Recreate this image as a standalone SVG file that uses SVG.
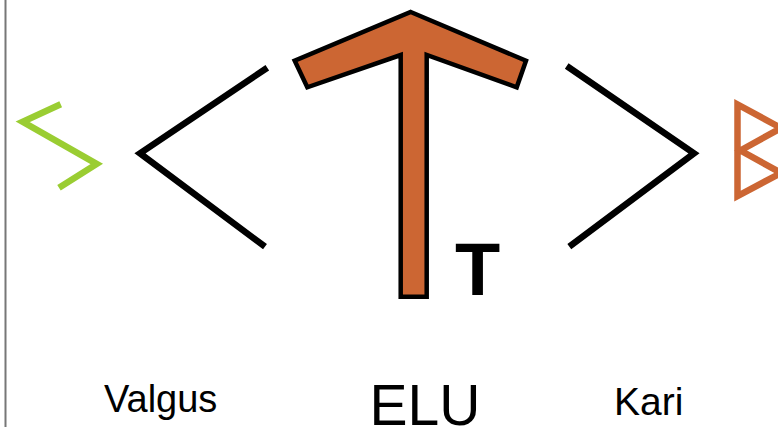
<svg xmlns="http://www.w3.org/2000/svg" width="778" height="427" viewBox="0 0 778 427">
<style>
.chev{fill:none;stroke:#000;stroke-width:6.5;stroke-linejoin:miter;stroke-miterlimit:10}
.lbl{font-family:"Liberation Sans",Arial,sans-serif;fill:#000}
</style>
<rect x="0" y="0" width="778" height="427" fill="#fff"/>
<line x1="5.5" y1="0" x2="5.5" y2="427" stroke="#777" stroke-width="2"/>
<g id="green-rune">
<polyline points="60.7,104.3 22.7,121.7 96.7,164 59,187.7" fill="none" stroke="#9ACD32" stroke-width="6.5" stroke-miterlimit="10"/>
</g>
<g id="connectors">
<polyline class="chev" points="267.3,67.7 140,153.3 265,246.7"/>
<polyline class="chev" points="566.7,66 694,153.3 569.3,246.7"/>
</g>
<g id="tiwaz">
<polygon points="410.7,12 526,60.7 516.7,87.3 426.7,55 426.7,296.7 400.7,296.7 400.7,55 307.3,87.3 294.7,60.7" fill="#CC6633" stroke="#000" stroke-width="4.5" stroke-linejoin="miter"/>
<text class="lbl" x="477.5" y="295" font-size="74" font-weight="bold" text-anchor="middle">T</text>
</g>
<g id="berkano">
<path d="M781,128 L737.5,104.5 L737.5,196 L781,173 L740.5,150.5 L781,128" fill="none" stroke="#CC6633" stroke-width="6.5" stroke-linejoin="miter" stroke-miterlimit="10"/>
</g>
<g id="label-valgus"><text class="lbl" x="104" y="412" font-size="38">Valgus</text></g>
<g id="label-elu"><text class="lbl" x="425" y="425" font-size="57" text-anchor="middle">ELU</text></g>
<g id="label-kari"><text class="lbl" x="614" y="415" font-size="39">Kari</text></g>
</svg>
